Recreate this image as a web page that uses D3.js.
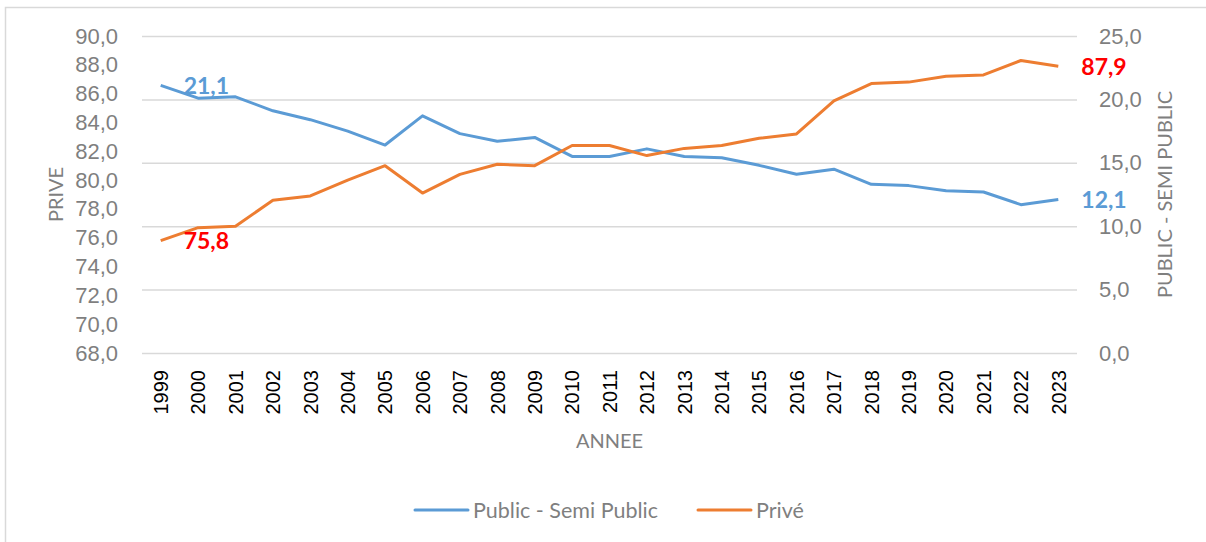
<!DOCTYPE html>
<html>
<head>
<meta charset="utf-8">
<script src="https://cdn.jsdelivr.net/npm/d3@7"></script>
<style>
  body { margin: 0; background: #fff; }
  svg { font-family: Lato, "Open Sans", sans-serif; }
</style>
</head>
<body>
<div id="chart"></div>
<script>

// data
var years = ["1999","2000","2001","2002","2003","2004","2005","2006","2007","2008","2009","2010",
  "2011","2012","2013","2014","2015","2016","2017","2018","2019","2020","2021","2022","2023"]
var publicVals = [21.1, 20.1, 20.2, 19.1, 18.4, 17.5, 16.4, 18.7, 17.3, 16.7, 17.0, 15.5,
  15.5, 16.1, 15.5, 15.4, 14.8, 14.1, 14.5, 13.3, 13.2, 12.8, 12.7, 11.7, 12.1]
var priveVals = [75.8, 76.7, 76.8, 78.6, 78.9, 80.0, 81.0, 79.1, 80.4, 81.1, 81.0, 82.4,
  82.4, 81.7, 82.2, 82.4, 82.9, 83.2, 85.5, 86.7, 86.8, 87.2, 87.3, 88.3, 87.9]
var leftTicks = [68, 70, 72, 74, 76, 78, 80, 82, 84, 86, 88, 90]
var rightTicks = [0, 5, 10, 15, 20, 25]

var W = 1206, H = 542
var plot = {left: 142, right: 1077, top: 36, bottom: 353}
var blue = "#5b9bd5", orange = "#ed7d31", grey = "#7f7f7f"

var fmt = function(v){ return d3.format(".1f")(v).replace(".", ",") }

var svg = d3.select("#chart").append("svg")
  .attr("width", W)
  .attr("height", H)

// chart frame (only left / top edges visible)
svg.append("rect")
  .attr("x", 5.5).attr("y", 7.5)
  .attr("width", W + 20).attr("height", H + 20)
  .attr("fill", "none")
  .attr("stroke", "#d9d9d9")
  .attr("stroke-width", 1.5)

var x = d3.scaleBand()
  .domain(years)
  .range([plot.left, plot.right])

var yL = d3.scaleLinear()
  .domain([68, 90])
  .range([plot.bottom, plot.top])

var yR = d3.scaleLinear()
  .domain([0, 25])
  .range([plot.bottom, plot.top])

// gridlines follow the secondary axis
var grid = svg.append("g")
  .attr("transform", "translate(" + plot.left + ",0)")
  .call(d3.axisLeft(yR).tickValues(rightTicks).tickSize(-(plot.right - plot.left)).tickFormat(""))
grid.select(".domain").remove()
grid.selectAll("line").attr("stroke", "#d9d9d9").attr("stroke-width", 1.5)

// left axis
var gL = svg.append("g")
  .attr("transform", "translate(" + plot.left + ",0)")
  .call(d3.axisLeft(yL).tickValues(leftTicks).tickSize(0).tickPadding(24).tickFormat(fmt))
gL.select(".domain").remove()
gL.selectAll("text").attr("fill", grey).style("font-size", "22px")

// right axis
var gR = svg.append("g")
  .attr("transform", "translate(" + plot.right + ",0)")
  .call(d3.axisRight(yR).tickValues(rightTicks).tickSize(0).tickPadding(22).tickFormat(fmt))
gR.select(".domain").remove()
gR.selectAll("text").attr("fill", grey).style("font-size", "22px")

// bottom axis, vertical years
var gB = svg.append("g")
  .attr("transform", "translate(0," + plot.bottom + ")")
  .call(d3.axisBottom(x).tickSize(0))
gB.select(".domain").remove()
gB.selectAll("text")
  .attr("fill", "#000")
  .style("font-size", "20px")
  .attr("text-anchor", "end")
  .attr("transform", "rotate(-90)")
  .attr("x", -17)
  .attr("y", 0)
  .attr("dy", "0.36em")

// axis titles
svg.append("text")
  .attr("transform", "translate(63," + ((plot.top + plot.bottom) / 2) + ") rotate(-90)")
  .attr("text-anchor", "middle")
  .attr("fill", grey)
  .style("font-size", "20px")
  .text("PRIVE")

svg.append("text")
  .attr("transform", "translate(1172," + ((plot.top + plot.bottom) / 2) + ") rotate(-90)")
  .attr("text-anchor", "middle")
  .attr("fill", grey)
  .style("font-size", "20px")
  .text("PUBLIC - SEMI PUBLIC")

svg.append("text")
  .attr("x", (plot.left + plot.right) / 2)
  .attr("y", 448)
  .attr("text-anchor", "middle")
  .attr("fill", grey)
  .style("font-size", "20px")
  .text("ANNEE")

// lines
var cx = function(i){ return x(years[i]) + x.bandwidth() / 2 }

var linePub = d3.line()
  .x(function(d, i){ return cx(i) })
  .y(function(d){ return yR(d) })

var linePriv = d3.line()
  .x(function(d, i){ return cx(i) })
  .y(function(d){ return yL(d) })

svg.append("path")
  .datum(publicVals)
  .attr("d", linePub)
  .attr("fill", "none")
  .attr("stroke", blue)
  .attr("stroke-width", 3)
  .attr("stroke-linejoin", "round")

svg.append("path")
  .datum(priveVals)
  .attr("d", linePriv)
  .attr("fill", "none")
  .attr("stroke", orange)
  .attr("stroke-width", 3)
  .attr("stroke-linejoin", "round")

// data labels at first and last point
var last = years.length - 1
var labels = [
  {i: 0, y: yR(publicVals[0]), v: publicVals[0], c: blue},
  {i: last, y: yR(publicVals[last]), v: publicVals[last], c: blue},
  {i: 0, y: yL(priveVals[0]), v: priveVals[0], c: "#ff0000"},
  {i: last, y: yL(priveVals[last]), v: priveVals[last], c: "#ff0000"}
]
svg.selectAll(".dlabel")
  .data(labels)
  .enter()
  .append("text")
  .attr("class", "dlabel")
  .attr("x", function(d){ return cx(d.i) + 23 })
  .attr("y", function(d){ return d.y })
  .attr("dy", "0.36em")
  .attr("fill", function(d){ return d.c })
  .style("font-size", "23px")
  .style("font-weight", "bold")
  .text(function(d){ return fmt(d.v) })

// legend
var legend = [
  {name: "Public - Semi Public", c: blue, x: 415},
  {name: "Privé", c: orange, x: 698}
]
var lg = svg.selectAll(".legend")
  .data(legend)
  .enter()
  .append("g")
  .attr("class", "legend")
  .attr("transform", function(d){ return "translate(" + d.x + ",510)" })
lg.append("line")
  .attr("x1", 0).attr("x2", 53)
  .attr("stroke", function(d){ return d.c })
  .attr("stroke-width", 3)
  .attr("stroke-linecap", "round")
lg.append("text")
  .attr("x", 58)
  .attr("dy", "0.36em")
  .attr("fill", grey)
  .style("font-size", "21.5px")
  .text(function(d){ return d.name })

</script>
</body>
</html>
